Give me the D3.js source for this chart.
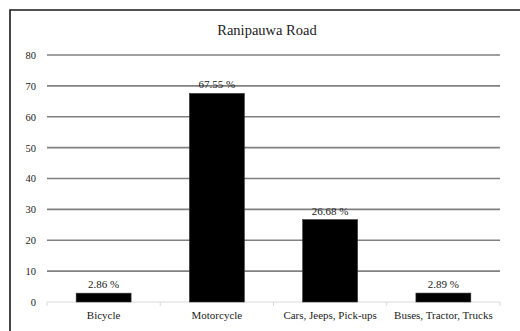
<!DOCTYPE html>
<html>
<head>
<meta charset="utf-8">
<script src="https://cdn.jsdelivr.net/npm/d3@7/dist/d3.min.js"></script>
<style>
  html, body { margin: 0; padding: 0; background: #fff; }
</style>
</head>
<body>
<svg id="chart" width="520" height="331"></svg>
<script>
// Vehicle share on Ranipauwa Road (percent)
const categories = ["Bicycle", "Motorcycle", "Cars, Jeeps, Pick-ups", "Buses, Tractor, Trucks"];
const shares = [2.86, 67.55, 26.68, 2.89];
const yTicks = [0, 10, 20, 30, 40, 50, 60, 70, 80];
const title = "Ranipauwa Road";

const FONT = "'Liberation Serif', 'Times New Roman', serif";
const svg = d3.select("#chart")
  .attr("font-family", FONT);
const W = 520, H = 331;
const plot = { left: 47, right: 500, top: 55, bottom: 302 };

// outer frame
svg.append("path")
  .attr("d", `M10,${H + 2} L10,10 L${W + 2},10`)
  .attr("fill", "none")
  .attr("stroke", "#1a1a1a")
  .attr("stroke-width", 1.6);

const x = d3.scaleBand()
  .domain(categories)
  .range([plot.left, plot.right])
  .paddingInner(0.515)
  .paddingOuter(0.2575);

const y = d3.scaleLinear()
  .domain([0, 80])
  .range([plot.bottom, plot.top]);

// horizontal gridlines
svg.append("g")
  .selectAll("line")
  .data(yTicks.filter(t => t > 0))
  .join("line")
  .attr("x1", plot.left)
  .attr("x2", plot.right)
  .attr("y1", d => y(d))
  .attr("y2", d => y(d))
  .attr("stroke", "#808080")
  .attr("stroke-width", 1.6);

// y axis labels
const yAxis = d3.axisLeft(y).tickValues(yTicks).tickSize(0).tickPadding(11);
svg.append("g")
  .attr("transform", `translate(${plot.left},0)`)
  .call(yAxis)
  .attr("font-family", FONT)
  .attr("font-size", 10.5)
  .call(g => g.select(".domain").remove())
  .call(g => g.selectAll("text").attr("fill", "#222"));

// category baseline with boundary ticks
const step = x.step();
const bounds = d3.range(categories.length + 1).map(i => plot.left + i * step);
const base = svg.append("g");
base.append("line")
  .attr("x1", plot.left).attr("x2", plot.right)
  .attr("y1", y(0)).attr("y2", y(0))
  .attr("stroke", "#d9d9d9").attr("stroke-width", 1);
base.selectAll("line.tick")
  .data(bounds)
  .join("line")
  .attr("class", "tick")
  .attr("x1", d => d).attr("x2", d => d)
  .attr("y1", y(0)).attr("y2", y(0) + 4)
  .attr("stroke", "#d9d9d9").attr("stroke-width", 1);

// bars
svg.append("g")
  .selectAll("rect")
  .data(categories)
  .join("rect")
  .attr("x", d => x(d))
  .attr("width", x.bandwidth())
  .attr("y", (d, i) => y(shares[i]))
  .attr("height", (d, i) => y(0) - y(shares[i]))
  .attr("fill", "#000")
  .attr("stroke", "#333")
  .attr("stroke-width", 0.6);

// value labels
svg.append("g")
  .attr("font-size", 11)
  .attr("fill", "#222")
  .selectAll("text")
  .data(categories)
  .join("text")
  .attr("x", d => x(d) + x.bandwidth() / 2)
  .attr("y", (d, i) => y(shares[i]) - 5)
  .attr("text-anchor", "middle")
  .text((d, i) => `${shares[i].toFixed(2)} %`);

// category labels
svg.append("g")
  .attr("font-size", 11)
  .attr("fill", "#222")
  .selectAll("text")
  .data(categories)
  .join("text")
  .attr("x", d => x(d) + x.bandwidth() / 2)
  .attr("y", 319)
  .attr("text-anchor", "middle")
  .text(d => d);

// title
svg.append("text")
  .attr("x", 267)
  .attr("y", 35)
  .attr("text-anchor", "middle")
  .attr("font-size", 14.5)
  .attr("fill", "#222")
  .text(title);
</script>
</body>
</html>
